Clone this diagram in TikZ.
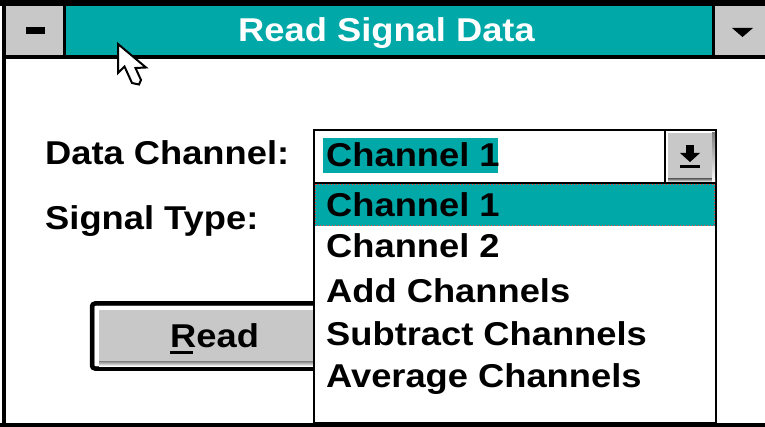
\documentclass[tikz,border=0pt]{standalone}
\usepackage{fontspec}
\newfontfamily\sysfont[FakeStretch=1.1]{Liberation Sans}
\definecolor{teal}{RGB}{0,168,168}
\definecolor{btngray}{RGB}{200,200,200}
\definecolor{shade}{RGB}{128,128,128}
\tikzset{
  txt/.style={anchor=base west, inner sep=0pt, font=\sysfont\bfseries\fontsize{33}{36}\selectfont},
  ctxt/.style={anchor=base, inner sep=0pt, font=\sysfont\bfseries\fontsize{33}{36}\selectfont},
}
\begin{document}
\begin{tikzpicture}[x=1pt,y=-1pt]
\useasboundingbox (0,0) rectangle (765,427);
\fill[white] (0,0) rectangle (765,427);
% window frame
\fill[black] (0,0) rectangle (765,6);
\fill[black] (2,0) rectangle (6,427);
\fill[black] (0,423) rectangle (765,427);
% title bar
\fill[teal] (6,6) rectangle (765,55);
\fill[black] (6,55) rectangle (765,59);
% system menu button
\fill[btngray] (6,6) rectangle (63,55);
\fill[black] (63,6) rectangle (66,55);
\fill[black] (26,27) rectangle (45,34);
% minimize button
\fill[black] (712,6) rectangle (715,55);
\fill[btngray] (715,6) rectangle (765,55);
\fill[black] (732,28) -- (753,28) -- (742.5,37) -- cycle;
\node[ctxt, text=white] (title) at (386.5,42) {Read Signal Data};
% labels
\node[txt] (lblchan) at (45,165) {Data Channel:};
\node[txt] (lbltype) at (45,230) {Signal Type:};
% Read button
\draw[line width=4.5pt, rounded corners=3pt, fill=btngray] (92,303.5) rectangle (345,368.5);
\fill[white] (95,306) rectangle (345,310);
\fill[white] (95,306) rectangle (99,366);
\fill[shade] (99,361) rectangle (345,366);
\node[txt] (readlbl) at (170,347) {Read};
\fill[black] (170,351) rectangle (193,354);
% combo box field
\draw[line width=2pt, fill=white] (314,130) rectangle (716,183);
\fill[teal] (323,138) rectangle (498,173);
\node[txt] (field) at (326,167) {Channel 1};
% dropdown button
\fill[btngray] (666,131) rectangle (715,182);
\fill[black] (664,130) rectangle (666,183);
\fill[white] (666,131) rectangle (715,133);
\fill[white] (666,131) rectangle (668,182);
\fill[shade] (668,179) rectangle (715,182);
\fill[shade] (712,133) rectangle (715,182);
\fill[black] (686,145) rectangle (694,154);
\fill[black] (680,153) -- (700,153) -- (690,162) -- cycle;
\fill[black] (680,165) rectangle (700,168);
% list
\draw[line width=2pt, fill=white] (314,183) rectangle (716,423);
\fill[teal] (315,184) rectangle (715,226);
\draw[red!75, dotted, line width=1pt] (315.5,184.5) rectangle (714.5,225.5);
\node[txt] (it1) at (326,217) {Channel 1};
\node[txt] (it2) at (326,258) {Channel 2};
\node[txt] (it3) at (326,302) {Add Channels};
\node[txt] (it4) at (326,345) {Subtract Channels};
\node[txt] (it5) at (326,387) {Average Channels};
% mouse cursor
\draw[fill=white, line width=2pt, line join=miter]
  (118,44) -- (118,73) -- (124.5,66.5) -- (132,83) -- (139,84.5) -- (141,80) -- (135.5,68) -- (146,67.5) -- cycle;
\end{tikzpicture}
\end{document}
